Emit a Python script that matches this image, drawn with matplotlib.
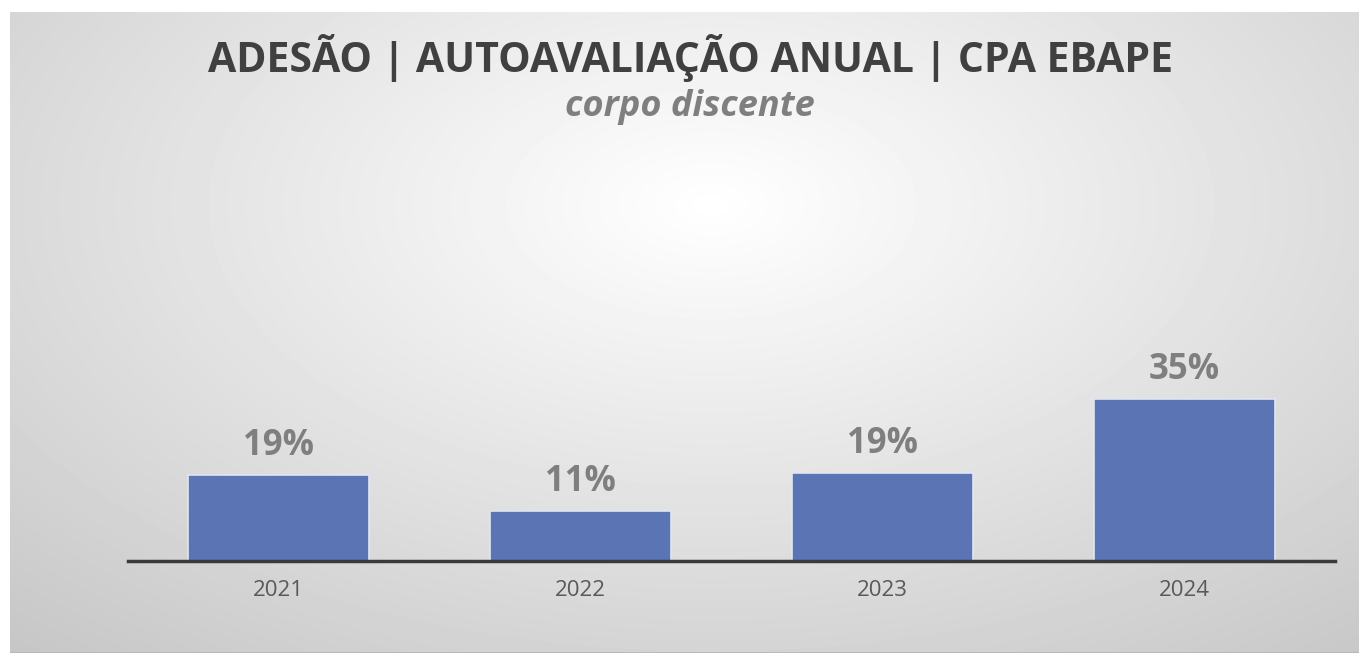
import numpy as np
import matplotlib.pyplot as plt

years = ['2021', '2022', '2023', '2024']
adesao = [18.6, 10.8, 19.0, 35.0]
labels = ['19%', '11%', '19%', '35%']

W, H = 1359, 653
fig = plt.figure(figsize=(W / 100, H / 100), dpi=100)
fig.patch.set_facecolor('white')
font = 'Open Sans'

# background panel with a soft radial gradient
bg = fig.add_axes([10 / W, 0, (W - 10) / W, (H - 12) / H])
gx, gy = np.meshgrid(np.linspace(0, 1, 400), np.linspace(0, 1, 200))
r = np.sqrt(((gx - 0.52) / 0.85) ** 2 + ((gy - 0.3) / 1.0) ** 2)
shade = np.clip(1.0 - 0.24 * r, 0.78, 1.0)
bg.imshow(shade, cmap='gray', vmin=0, vmax=1, aspect='auto',
          extent=[0, 1, 1, 0], interpolation='bicubic')
bg.axhline(1, color='#b8b8b8', lw=2)
bg.set_xlim(0, 1)
bg.set_ylim(1, 0)
bg.axis('off')

# bar plot area
left, right, base, top = 128, 1335, 561, 191
ax = fig.add_axes([left / W, (H - base) / H, (right - left) / W, (base - top) / H])
ax.patch.set_alpha(0)
x = np.arange(len(years))
bars = ax.bar(x, adesao, width=0.6, color='#5b74b3', edgecolor='#dfe6f5', linewidth=1.2)
ax.set_xlim(-0.5, len(years) - 0.5)
ax.set_ylim(0, (base - top) / 4.63)

for b, lab in zip(bars, labels):
    ax.annotate(lab, (b.get_x() + b.get_width() / 2, b.get_height()),
                xytext=(0, 8), textcoords='offset points', ha='center', va='bottom',
                fontsize=25, fontweight='bold', color='#7f7f7f', family=font)

for s in ['top', 'right', 'left']:
    ax.spines[s].set_visible(False)
ax.spines['bottom'].set_color('#3a3a3a')
ax.spines['bottom'].set_linewidth(2.5)
ax.set_yticks([])
ax.set_xticks(x)
ax.set_xticklabels(years, fontsize=16, color='#595959', family=font)
ax.tick_params(axis='x', length=0, pad=14)

fig.text(690 / W, 1 - 58 / H, 'ADESÃO | AUTOAVALIAÇÃO ANUAL | CPA EBAPE',
         ha='center', va='center', fontsize=29.5, fontweight='bold', color='#404040', family=font)
fig.text(690 / W, 1 - 107 / H, 'corpo discente', ha='center', va='center',
         fontsize=26, fontweight='bold', style='italic', color='#7f7f7f', family=font)

fig.savefig('out.png', dpi=100)
